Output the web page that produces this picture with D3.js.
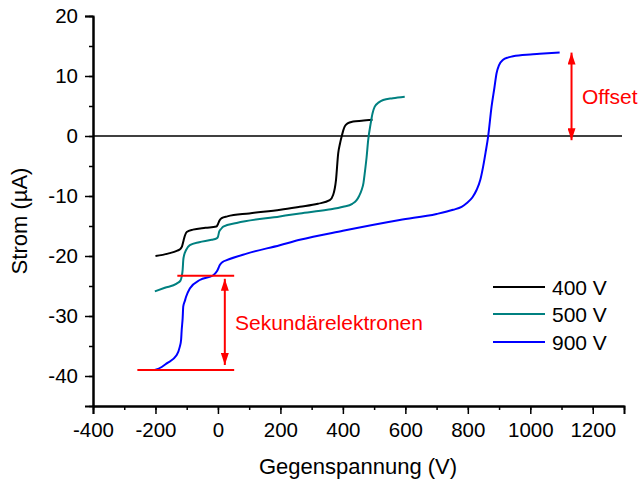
<!DOCTYPE html>
<html><head><meta charset="utf-8">
<script src="https://cdn.jsdelivr.net/npm/d3@7"></script>
<style>body{margin:0;background:#fff}svg{display:block}text{font-family:"Liberation Sans",Arial,sans-serif}</style>
</head><body>
<svg id="c" width="640" height="481"></svg>
<script>
const xDomain = [-400, 1300];
const yDomain = [-45, 20];
const xTicks = [-400, -200, 0, 200, 400, 600, 800, 1000, 1200];
const yTicks = [20, 10, 0, -10, -20, -30, -40];
const seriesNames = ["400 V", "500 V", "900 V"];
const seriesColors = ["#000000", "#008080", "#0000ff"];

const v400 = [-200,-160,-130,-120,-115,-110,-105,-100,-80,-40,-5,0,5,12,30,100,200,262,320,358,369,378,385,391,396,401,406,415,433,460,495];
const i400 = [-20,-19.6,-19.1,-18.8,-18.4,-17.4,-16.5,-16.0,-15.6,-15.3,-15.1,-14.7,-14.1,-13.7,-13.4,-12.9,-12.3,-11.8,-11.3,-10.7,-9.8,-7.3,-2.9,-1.2,-0.1,0.9,1.6,2.1,2.4,2.55,2.7];

const v500 = [-202,-170,-132,-120,-116,-113,-111,-108,-102,-90,-60,-20,-4,0,4,10,17,60,198,262,350,401,430,444,452,460,466,470,476,481,489,495,502,515,529,560,598];
const i500 = [-25.9,-25.3,-24.6,-24.1,-23.4,-22.3,-20.7,-19.8,-19.0,-18.2,-17.7,-17.3,-17.05,-16.8,-15.95,-15.5,-15.1,-14.5,-13.4,-12.9,-12.3,-11.8,-11.3,-10.7,-10.0,-9.0,-7.8,-6.2,-3.5,-0.7,2.1,3.8,4.9,5.6,6.0,6.3,6.55];

const v900 = [-202,-180,-164,-132,-122,-118,-116,-113,-111,-106,-102,-90,-58,-15,-4,0,6,15,28,92,198,262,400,582,700,753,780,796,815,828,840,849,857,865,876,885,892,900,913,930,945,1000,1030,1094];
const i900 = [-39,-38.5,-37.9,-36.5,-35.1,-34,-32.3,-30.4,-28.4,-27.5,-26.8,-25.4,-24,-23.2,-22.6,-22.2,-21.5,-21.0,-20.7,-19.6,-18.2,-17.3,-15.8,-14,-13,-12.3,-11.8,-11.2,-10.2,-9,-7.3,-5.1,-2.7,-0.1,4.9,8.0,10.45,11.8,12.7,13.1,13.3,13.6,13.7,13.9];

// annotations (data units)
const secLevels = [-23.3, -39];
const secLineX = [[-130, 52], [-258, 52]];
const secArrowX = 22;
const offsetArrowX = 1132;
const offsetLevels = [13.9, -0.7];

const svg = d3.select("#c");
const L = 93, R = 624, T = 16, B = 406;
const x = d3.scaleLinear().domain(xDomain).range([L, R]);
const y = d3.scaleLinear().domain(yDomain).range([B, T]);
const FONT = "Liberation Sans, Arial, sans-serif";

const defs = svg.append("defs");
defs.append("marker").attr("id","ah").attr("viewBox","0 0 12 8").attr("refX",12).attr("refY",4)
  .attr("markerWidth",12).attr("markerHeight",8).attr("markerUnits","userSpaceOnUse")
  .attr("orient","auto-start-reverse")
  .append("path").attr("d","M0,0 L12,4 L0,8 Z").attr("fill","#ff0000");

// zero line
svg.append("line").attr("x1",L).attr("x2",R-2).attr("y1",y(0)).attr("y2",y(0))
  .attr("stroke","#000").attr("stroke-width",1.5);

// axes
const fmt = d => String(d);
const minorX = d3.range(-400, 1301, 100);
const minorY = d3.range(-45, 21, 5);
const gx = svg.append("g").attr("transform",`translate(0,${B})`);
gx.call(d3.axisBottom(x).tickValues(minorX).tickSize(4).tickSizeOuter(0).tickFormat(""));
gx.append("g").call(d3.axisBottom(x).tickValues(xTicks).tickSize(8).tickPadding(8).tickFormat(fmt));
const gy = svg.append("g").attr("transform",`translate(${L},0)`);
gy.call(d3.axisLeft(y).tickValues(minorY).tickSize(4).tickSizeOuter(0).tickFormat(""));
gy.append("g").call(d3.axisLeft(y).tickValues(yTicks).tickSize(8).tickPadding(7).tickFormat(fmt));
gx.select("g").select(".domain").remove();
gy.select("g").select(".domain").remove();
svg.selectAll(".domain").attr("stroke-width",2).attr("stroke","#000");
svg.selectAll(".tick line").attr("stroke-width",1.5);
svg.selectAll(".tick text").attr("font-size",20.5).attr("fill","#000").attr("font-family",FONT);

// series
const data = [[v400,i400],[v500,i500],[v900,i900]];
const line = d3.line().x(d=>x(d[0])).y(d=>y(d[1])).curve(d3.curveMonotoneX);
data.forEach(([vs,is],k)=>{
  svg.append("path").datum(vs.map((v,i)=>[v,is[i]]))
    .attr("d",line).attr("fill","none").attr("stroke",seriesColors[k]).attr("stroke-width",2)
    .attr("stroke-linejoin","round");
});

// annotations
secLevels.forEach((lv,i)=>{
  svg.append("line").attr("x1",x(secLineX[i][0])).attr("x2",x(secLineX[i][1]))
    .attr("y1",y(lv)).attr("y2",y(lv)).attr("stroke","#ff0000").attr("stroke-width",2);
});
svg.append("line").attr("x1",x(secArrowX)).attr("x2",x(secArrowX))
  .attr("y1",y(secLevels[0])+3).attr("y2",y(secLevels[1])-5)
  .attr("stroke","#ff0000").attr("stroke-width",2)
  .attr("marker-start","url(#ah)").attr("marker-end","url(#ah)");
svg.append("text").attr("x",235).attr("y",330).attr("fill","#ff0000").attr("font-size",21).text("Sekundärelektronen");

svg.append("line").attr("x1",x(offsetArrowX)).attr("x2",x(offsetArrowX))
  .attr("y1",y(offsetLevels[0])).attr("y2",y(offsetLevels[1]))
  .attr("stroke","#ff0000").attr("stroke-width",2)
  .attr("marker-start","url(#ah)").attr("marker-end","url(#ah)");
svg.append("text").attr("x",582).attr("y",104).attr("fill","#ff0000").attr("font-size",21).text("Offset");

// legend
const legY = [287, 314, 342];
seriesNames.forEach((n,i)=>{
  svg.append("line").attr("x1",493).attr("x2",545).attr("y1",legY[i]).attr("y2",legY[i])
    .attr("stroke",seriesColors[i]).attr("stroke-width",2);
  svg.append("text").attr("x",552).attr("y",legY[i]+8).attr("font-size",21).attr("fill","#000").text(n);
});

// axis titles
svg.append("text").attr("x",358).attr("y",474).attr("text-anchor","middle").attr("font-size",22).text("Gegenspannung (V)");
svg.append("text").attr("transform","translate(27,221) rotate(-90)").attr("text-anchor","middle").attr("font-size",22).text("Strom (µA)");
</script>
</body></html>
